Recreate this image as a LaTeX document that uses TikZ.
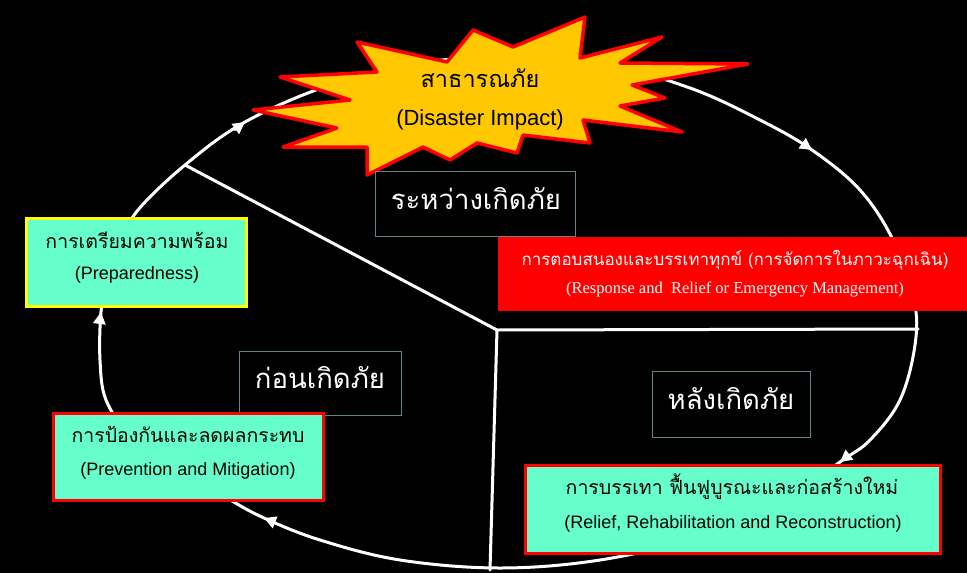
\documentclass[tikz,border=0pt]{standalone}
\usepackage{fontspec}
\setmainfont{Liberation Sans}
\newfontfamily\thaifont[Script=Thai]{Loma}
\newfontfamily\timesfont{Liberation Serif}
\usetikzlibrary{arrows.meta}
\definecolor{aquafill}{RGB}{102,255,204}
\definecolor{burstfill}{RGB}{255,200,0}
\definecolor{burstline}{RGB}{255,0,0}
\definecolor{lblline}{RGB}{100,130,140}
\definecolor{boxred}{RGB}{255,0,0}
\definecolor{boxyellow}{RGB}{255,255,0}
\begin{document}
\begin{tikzpicture}[x=1pt,y=-1pt,
  cyc/.style={white, line width=3pt},
  tipline/.style={white, line width=3pt, -{Triangle[length=12pt,width=12pt]}},
  divider/.style={white, line width=3pt, line cap=round},
  stagebox/.style={line width=3pt, fill=aquafill, inner sep=0pt},
  lblbox/.style={draw=lblline, line width=1.5pt, fill=black, inner sep=0pt},
  thtxt/.style={font=\thaifont\fontsize{19.5}{21}\selectfont, anchor=base, inner sep=0pt},
  entxt/.style={font=\fontsize{18}{20}\selectfont, anchor=base, inner sep=0pt},
  lbltxt/.style={font=\thaifont\fontsize{27.5}{29}\selectfont, anchor=base, inner sep=0pt, text=white},
]
\fill[black] (0,0) rectangle (967,573);
\useasboundingbox (0,0) rectangle (967,573);

% cycle curve
\draw[cyc] plot[smooth cycle, tension=0.6] coordinates {
 (101,312) (107,280) (122,240) (138,210) (185,165) (245,122) (330,85) (420,63)
 (505,57) (600,63) (690,88) (760,120) (812,150) (860,190) (893,240) (914,300)
 (915,345) (900,400) (870,440) (840,462) (780,505) (700,537) (600,560) (500,568)
 (400,560) (320,540) (264,518) (225,497) (170,465) (130,435) (106,400) (100,360)};

% arrow tips on the cycle
\coordinate (tailL) at (99.5,323);  \coordinate (tipL) at (101,312);
\coordinate (tailNW) at (234,130);  \coordinate (tipNW) at (245,122);
\coordinate (tailNE) at (802,143);  \coordinate (tipNE) at (812,150);
\coordinate (tailSE) at (849,455);  \coordinate (tipSE) at (840,462);
\coordinate (tailS) at (274,522);   \coordinate (tipS) at (264,518);
\draw[tipline] (tailL) -- (tipL);
\draw[tipline] (tailNW) -- (tipNW);
\draw[tipline] (tailNE) -- (tipNE);
\draw[tipline] (tailSE) -- (tipSE);
\draw[tipline] (tailS) -- (tipS);

% dividers
\coordinate (hub) at (497,330);
\coordinate (divNW) at (185,165);
\coordinate (divE) at (918,329);
\coordinate (divS) at (490,570);
\draw[divider] (hub) -- (divNW);
\draw[divider] (hub) -- (divE);
\draw[divider] (hub) -- (divS);

% starburst
\draw[fill=burstfill, draw=burstline, line width=3.5pt, line join=round]
 (357,42) -- (447,62) -- (473,30) -- (513,47) -- (585,17) -- (580,58) -- (662,37)
 -- (620,63) -- (748,64) -- (632,85) -- (665,98) -- (620,106) -- (682,132)
 -- (583,120) -- (590,143) -- (523,135) -- (517,153) -- (477,143) -- (450,160)
 -- (423,147) -- (367,175) -- (367,147) -- (283,147) -- (337,128) -- (253,110)
 -- (350,100) -- (280,77) -- (377,72) -- cycle;
\node[thtxt, font=\thaifont\fontsize{23.5}{25}\selectfont] (impactTH) at (480,87) {สาธารณภัย};
\node[entxt, font=\fontsize{22}{24}\selectfont] (impactEN) at (480,125) {(Disaster Impact)};

% phase labels
\node[lblbox, minimum width=200pt, minimum height=65pt] (duringbox) at (475.5,204) {};
\node[lbltxt] (duringTH) at (476,209) {ระหว่างเกิดภัย};
\node[lblbox, minimum width=162pt, minimum height=64pt] (beforebox) at (320.5,383.5) {};
\node[lbltxt] (beforeTH) at (320,388) {ก่อนเกิดภัย};
\node[lblbox, minimum width=158pt, minimum height=66pt] (afterbox) at (731.5,404.5) {};
\node[lbltxt] (afterTH) at (731,409) {หลังเกิดภัย};

% response box
\node[fill=boxred, minimum width=469pt, minimum height=74pt, inner sep=0pt] (respbox) at (732.5,274) {};
\node[thtxt, text=white, font=\thaifont\fontsize{17}{19}\selectfont] (respTH) at (735,265) {การตอบสนองและบรรเทาทุกข์ (การจัดการในภาวะฉุกเฉิน)};
\node[anchor=base, inner sep=0pt, text=white, font=\timesfont\fontsize{16.5}{18}\selectfont] (respEN) at (735,293) {(Response and\ \ Relief or Emergency Management)};

% preparedness
\node[stagebox, draw=boxyellow, minimum width=220pt, minimum height=88pt] (prepbox) at (136.5,262.5) {};
\node[thtxt] (prepTH) at (137,248) {การเตรียมความพร้อม};
\node[entxt] (prepEN) at (137,279) {(Preparedness)};

% prevention
\node[stagebox, draw=boxred, minimum width=270pt, minimum height=87pt] (prevbox) at (188.5,457) {};
\node[thtxt] (prevTH) at (188,442) {การป้องกันและลดผลกระทบ};
\node[entxt] (prevEN) at (188,475) {(Prevention and Mitigation)};

% relief
\node[stagebox, draw=boxred, minimum width=415pt, minimum height=88pt] (relbox) at (733,509.5) {};
\node[thtxt] (relTH) at (732,494) {การบรรเทา ฟื้นฟูบูรณะและก่อสร้างใหม่};
\node[entxt] (relEN) at (733,528) {(Relief, Rehabilitation and Reconstruction)};
\end{tikzpicture}
\end{document}
